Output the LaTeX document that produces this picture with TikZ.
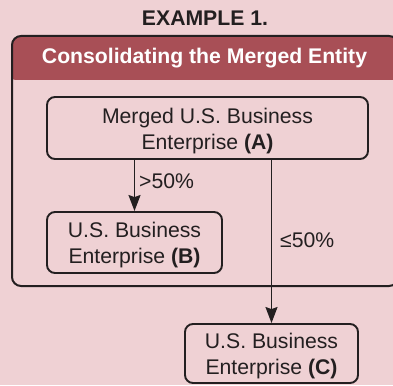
\documentclass[tikz,border=0pt]{standalone}
\usepackage{fontspec}
\setmainfont{Liberation Sans}
\usetikzlibrary{arrows.meta}
\definecolor{bgpink}{HTML}{EFD1D4}
\definecolor{hdred}{HTML}{A84F56}
\definecolor{ink}{HTML}{231F20}
\begin{document}
\begin{tikzpicture}[x=1pt,y=-1pt,
  fnt/.style={font=\fontsize{21.2}{26}\selectfont},
  txt/.style={fnt, text=ink, inner sep=0pt},
  entbox/.style={draw=ink, line width=1.9pt, rounded corners=8pt, inner sep=0pt},
  boxtext/.style={label={[txt, align=center, yshift=-3pt]center:#1}},
  arr/.style={draw=ink, line width=1.5pt, -{Stealth[length=16pt,width=12pt,inset=2pt]}}]
\useasboundingbox (0,0) rectangle (393,385);
\fill[bgpink] (0,0) rectangle (393,385);
% header band
\begin{scope}
\clip[rounded corners=9pt] (12,36) rectangle (398,286);
\fill[hdred] (0,0) -- (400,0) -- (400,80) -- (19,80) .. controls (12,80) .. (12,73) -- (12,0) -- cycle;
\end{scope}
% outer frame
\draw[ink, line width=2pt, rounded corners=9pt] (12,36) rectangle (398,286);
\node[txt, font=\bfseries\fontsize{21.2}{26}\selectfont] (title) at (205,18.5) {EXAMPLE 1.};
\node[txt, text=white, font=\bfseries\fontsize{21.2}{26}\selectfont] (head) at (204.5,58.5) {Consolidating the Merged Entity};
\node[entbox, minimum width=321pt, minimum height=62pt,
  boxtext={Merged U.S. Business\\Enterprise \textbf{(A)}}] (A) at (207.5,128) {};
\node[entbox, minimum width=175pt, minimum height=61pt,
  boxtext={U.S. Business\\Enterprise \textbf{(B)}}] (B) at (134.5,242.5) {};
\node[entbox, minimum width=173pt, minimum height=59pt,
  boxtext={U.S. Business\\Enterprise \textbf{(C)}}] (C) at (271.5,353.5) {};
\draw[arr] (A.south -| B.north) -- (B.north);
\draw[arr] (A.south -| C.north) -- (C.north);
\node[txt, anchor=west] (l1) at (139,181) {>50\%};
\node[txt, anchor=west] (l2) at (280,240) {≤50\%};
\end{tikzpicture}
\end{document}
